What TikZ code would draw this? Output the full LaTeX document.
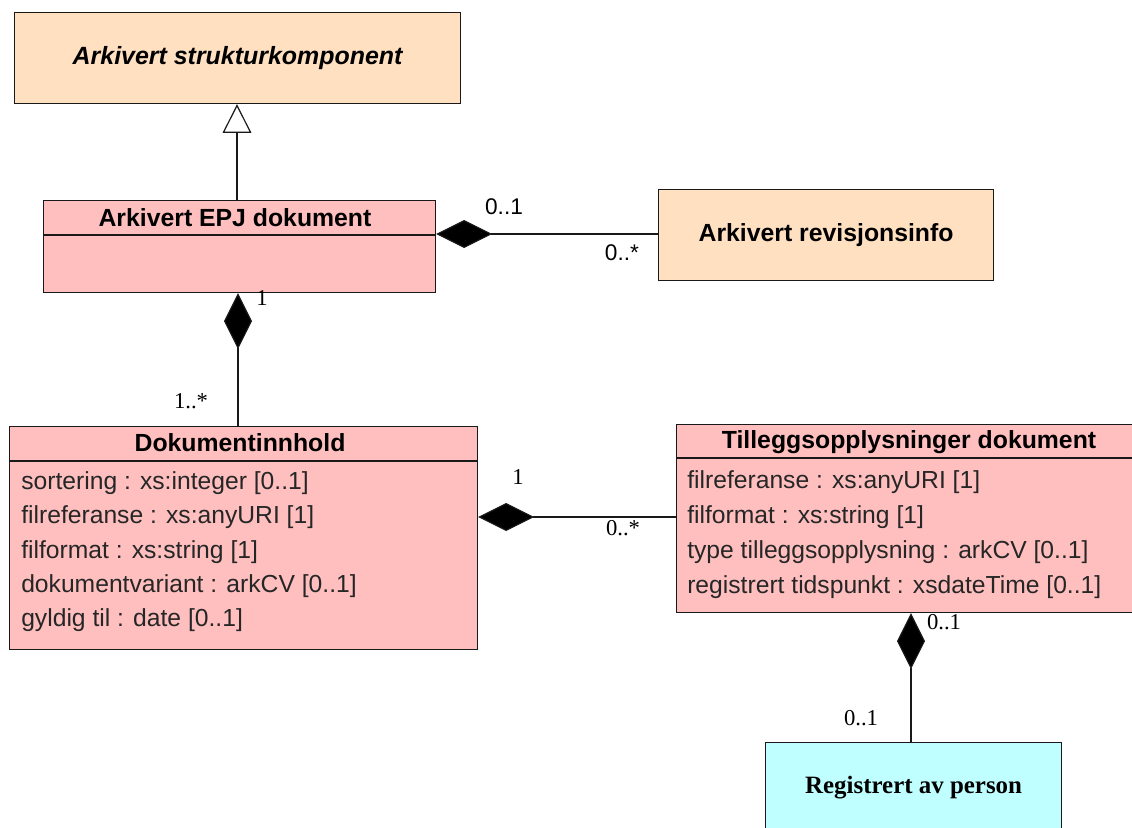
\documentclass[tikz,border=0pt]{standalone}
\usepackage{fontspec}
\setmainfont{Liberation Sans}
\newfontfamily\lblserif{Liberation Serif}
\usetikzlibrary{arrows.meta,calc}
\definecolor{umlpink}{RGB}{255,191,191}
\definecolor{umlpeach}{RGB}{255,224,193}
\definecolor{umlcyan}{RGB}{192,255,255}
\newcommand\upx{0.75pt}
\begin{document}
\begin{tikzpicture}[x=0.75pt,y=-0.75pt,
  box/.style={draw=black!90, line width=0.9pt, inner sep=0pt, anchor=north west},
  pinkbox/.style={box, fill=umlpink},
  peachbox/.style={box, fill=umlpeach},
  cyanbox/.style={box, fill=umlcyan},
  title/.style={font=\bfseries\fontsize{18.6}{21}\selectfont, inner sep=0pt},
  attr/.style={font=\fontsize{18.5}{21}\selectfont, text=black!85, inner sep=0pt, anchor=west},
  sanslbl/.style={font=\fontsize{17}{20}\selectfont, inner sep=0pt},
  seriflbl/.style={font=\lblserif\fontsize{17}{20}\selectfont, inner sep=0pt},
  divider/.style={draw=black!90, line width=0.9pt},
  conn/.style={draw=black!90, line width=0.9pt},
  comp/.style={conn, {Diamond[length=42pt,width=21pt,fill=black]}-},
  gen/.style={conn, -{Triangle[open,length=21.5pt,width=21.5pt,fill=white]}}
]
\useasboundingbox (0,0) rectangle (1132,828);
\clip (0,0) rectangle (1132,828);

% Arkivert strukturkomponent
\node[peachbox, minimum width=446*\upx, minimum height=91*\upx,
      font=\bfseries\itshape\fontsize{18.7}{21}\selectfont] (sk) at (14,12) {Arkivert strukturkomponent};

% Arkivert EPJ dokument
\node[pinkbox, minimum width=392*\upx, minimum height=92*\upx] (epj) at (43,200) {};
\draw[divider] ($(epj.north west)+(0,35)$) -- ($(epj.north east)+(0,35)$);
\node[title] (epjt) at (235,218) {Arkivert EPJ dokument};

% Arkivert revisjonsinfo
\node[peachbox, minimum width=335*\upx, minimum height=91*\upx,
      font=\bfseries\fontsize{18.6}{21}\selectfont] (rev) at (658,189) {Arkivert revisjonsinfo};

% Dokumentinnhold
\node[pinkbox, minimum width=468*\upx, minimum height=223*\upx] (doc) at (9,426) {};
\draw[divider] ($(doc.north west)+(0,35)$) -- ($(doc.north east)+(0,35)$);
\node[title] (doct) at (240,443) {Dokumentinnhold};
\node[attr] (da1) at (21,483) {sortering : xs:integer [0..1]};
\node[attr] (da2) at (21,517) {filreferanse : xs:anyURI [1]};
\node[attr] (da3) at (21,552) {filformat : xs:string [1]};
\node[attr] (da4) at (21,586) {dokumentvariant : arkCV [0..1]};
\node[attr] (da5) at (21,620) {gyldig til : date [0..1]};

% Tilleggsopplysninger dokument
\node[pinkbox, minimum width=467*\upx, minimum height=188*\upx] (til) at (676,424) {};
\draw[divider] ($(til.north west)+(0,34)$) -- ($(til.north east)+(0,34)$);
\node[title] (tilt) at (909,442) {Tilleggsopplysninger dokument};
\node[attr] (ta1) at (687,482) {filreferanse : xs:anyURI [1]};
\node[attr] (ta2) at (687,517) {filformat : xs:string [1]};
\node[attr] (ta3) at (687,552) {type tilleggsopplysning : arkCV [0..1]};
\node[attr] (ta4) at (687,587) {registrert tidspunkt : xsdateTime [0..1]};

% Registrert av person
\node[cyanbox, minimum width=296*\upx, minimum height=90*\upx,
      font=\lblserif\bfseries\fontsize{18.7}{21}\selectfont] (reg) at (765,742) {Registrert av person};

% Generalization
\draw[gen] ($(epj.north west)+(194,0)$) coordinate (g1) -- (g1 |- sk.south);

% Composition EPJ -> revisjonsinfo
\draw[comp] ($(epj.north east)+(0,34)$) coordinate (c1) -- (c1 -| rev.west);
\node[sanslbl] (l1a) at (504,207) {0..1};
\node[sanslbl] (l1b) at (622,253) {0..*};

% Composition EPJ -> Dokumentinnhold
\draw[comp] ($(epj.south west)+(195,0)$) coordinate (c2) -- (c2 |- doc.north);
\node[seriflbl] (l2a) at (262,298) {1};
\node[seriflbl] (l2b) at (191,401) {1..*};

% Composition Dokumentinnhold -> Tillegg
\draw[comp] ($(doc.north east)+(0,91)$) coordinate (c3) -- (c3 -| til.west);
\node[seriflbl] (l3a) at (518,477) {1};
\node[seriflbl] (l3b) at (623,528) {0..*};

% Composition Tillegg -> Registrert
\draw[comp] ($(til.south west)+(235,0)$) coordinate (c4) -- (c4 |- reg.north);
\node[seriflbl] (l4a) at (944,622) {0..1};
\node[seriflbl] (l4b) at (861,718) {0..1};
\end{tikzpicture}
\end{document}
